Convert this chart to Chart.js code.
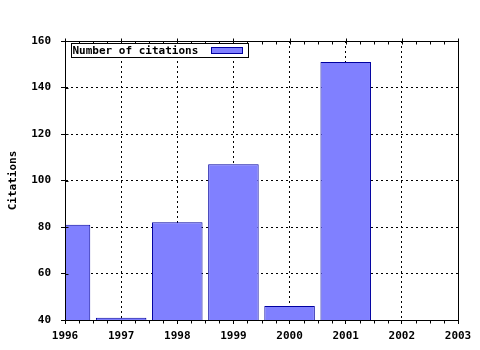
<!DOCTYPE html>
<html>
<head>
<meta charset="utf-8">
<script src="https://cdn.jsdelivr.net/npm/chart.js@4/dist/chart.umd.min.js"></script>
<style>
  body { margin: 0; background: #fff; }
  canvas { display: block; background: #fff; }
</style>
</head>
<body>
<canvas id="citationsChart" width="480" height="350"></canvas>
<script>
// citation counts per year
const years = [1996, 1997, 1998, 1999, 2000, 2001];
const citations = [81, 41, 82, 107, 46, 151];
const seriesLabel = 'Number of citations';
const yTitle = 'Citations';
const xRange = [1996, 2003];
const yRange = [40, 160];

const monoFont = { family: '"DejaVu Sans Mono", "Liberation Mono", monospace', size: 11, weight: 'bold' };
const barFill = '#8080ff';
const barEdge = '#0000a0';

// frame, minor ticks and the boxed legend inside the plot
const framePlugin = {
    id: 'frame',
    afterDatasetsDraw(chart) {
        const { ctx, chartArea, scales } = chart;
        const l = Math.round(chartArea.left) + 0.5;
        const r = Math.round(chartArea.right) + 0.5;
        const t = Math.round(chartArea.top) + 0.5;
        const b = Math.round(chartArea.bottom) + 0.5;
        ctx.save();
        ctx.strokeStyle = '#000';
        ctx.lineWidth = 1;
        ctx.strokeRect(l, t, r - l, b - t);

        // x ticks: minor every quarter year, majors cross the top edge
        ctx.beginPath();
        for (let v = xRange[0]; v <= xRange[1] + 1e-9; v += 0.25) {
            const px = Math.round(scales.x.getPixelForValue(v)) + 0.5;
            const major = Math.abs(v - Math.round(v)) < 1e-9;
            if (major) {
                ctx.moveTo(px, t - 3);
                ctx.lineTo(px, t + 3);
            } else {
                ctx.moveTo(px, t);
                ctx.lineTo(px, t + 3);
                ctx.moveTo(px, b);
                ctx.lineTo(px, b + 3);
            }
        }
        // y major ticks poke into the plot a little
        for (let v = yRange[0]; v <= yRange[1]; v += 20) {
            const py = Math.round(scales.y.getPixelForValue(v)) + 0.5;
            ctx.moveTo(l, py);
            ctx.lineTo(l + 3, py);
        }
        ctx.stroke();

        // legend box
        const bx = Math.round(chartArea.left) + 6.5;
        const by = Math.round(chartArea.top) + 2.5;
        ctx.font = `${monoFont.weight} ${monoFont.size}px ${monoFont.family}`;
        const tw = ctx.measureText(seriesLabel).width;
        const bw = Math.max(177, Math.round(tw) + 50);
        ctx.fillStyle = '#fff';
        ctx.fillRect(bx, by, bw, 14);
        ctx.strokeRect(bx, by, bw, 14);
        ctx.fillStyle = '#000';
        ctx.textBaseline = 'middle';
        ctx.textAlign = 'left';
        ctx.fillText(seriesLabel, bx + 1, by + 7.5);
        ctx.fillStyle = barFill;
        ctx.strokeStyle = barEdge;
        ctx.fillRect(bx + bw - 37, by + 4, 31, 6);
        ctx.strokeRect(bx + bw - 37, by + 4, 31, 6);
        ctx.restore();
    }
};

new Chart(document.getElementById('citationsChart'), {
    type: 'bar',
    data: {
        datasets: [{
            label: seriesLabel,
            data: years.map((y, i) => ({ x: y, y: citations[i] })),
            backgroundColor: barFill,
            borderColor: barEdge,
            borderWidth: 1,
            borderSkipped: false,
            categoryPercentage: 1,
            barPercentage: 0.9
        }]
    },
    options: {
        responsive: false,
        animation: false,
        layout: { padding: { left: 0, right: 22, top: 41, bottom: 0 } },
        plugins: {
            legend: { display: false },
            tooltip: { enabled: false }
        },
        scales: {
            x: {
                type: 'linear',
                min: xRange[0],
                max: xRange[1],
                offset: false,
                grid: {
                    offset: false,
                    color: '#000',
                    tickLength: 4,
                    tickColor: '#000'
                },
                border: { display: true, color: '#000', dash: [2, 3] },
                ticks: {
                    stepSize: 1,
                    color: '#000',
                    font: monoFont,
                    padding: 6,
                    maxRotation: 0,
                    callback: v => String(v)
                },
                afterFit: s => { s.height = 30; }
            },
            y: {
                min: yRange[0],
                max: yRange[1],
                grid: {
                    color: '#000',
                    tickLength: 4,
                    tickColor: '#000'
                },
                border: { display: true, color: '#000', dash: [2, 3] },
                ticks: {
                    stepSize: 20,
                    color: '#000',
                    font: monoFont,
                    padding: 10
                },
                title: {
                    display: true,
                    text: yTitle,
                    color: '#000',
                    font: monoFont,
                    padding: { top: 7, bottom: 0 }
                },
                afterFit: s => { s.width = 65; }
            }
        }
    },
    plugins: [framePlugin]
});
</script>
</body>
</html>
